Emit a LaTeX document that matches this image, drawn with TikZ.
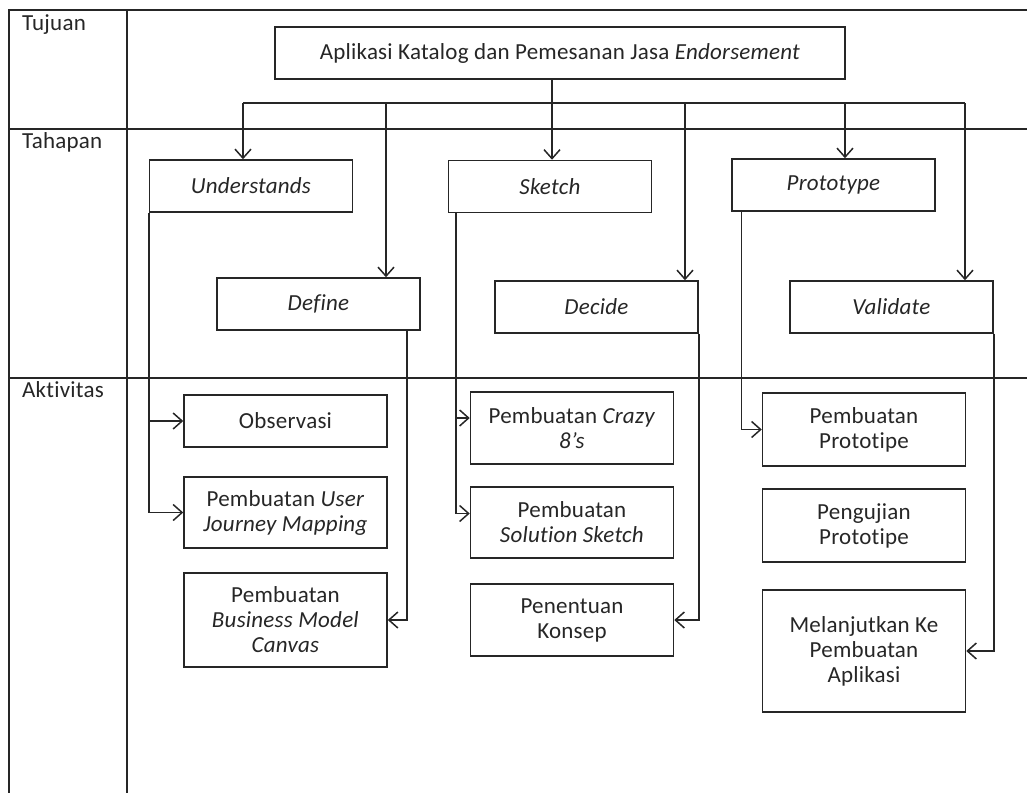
\documentclass[tikz,border=0pt]{standalone}
\usepackage{fontspec}
\setmainfont{Carlito}[Ligatures=NoCommon, LetterSpace=1]
\usetikzlibrary{calc,arrows.meta}

\begin{document}
\begin{tikzpicture}[x=1pt, y=-1pt,
  every node/.style={font=\fontsize{23}{25}\selectfont, text=black!85, inner sep=2pt},
  box/.style={draw=black!85, line width=1.5pt, align=center, minimum width=203pt, minimum height=52pt},
  frame/.style={draw=black!85, line width=1.5pt},
  arr/.style={draw=black!85, line width=1.5pt, -{Straight Barb[length=9pt,width=16pt]}},
  lbl/.style={anchor=base west}
]
\useasboundingbox (0,0) rectangle (1027,793);

% ---- Lanes ----
\draw[frame] (1027,10) -- (9,10) -- (9,793);
\draw[frame] (127,10) -- (127,793);
\draw[frame] (9,129) -- (1027,129);
\draw[frame] (9,378) -- (1027,378);

\node[lbl] (tujuan)    at (20,30)  {Tujuan};
\node[lbl] (tahapan)   at (20,148) {Tahapan};
\node[lbl] (aktivitas) at (20,397) {Aktivitas};

% ---- Goal ----
\node[box, minimum width=570pt] (title) at (560,53) {Aplikasi Katalog dan Pemesanan Jasa \textit{Endorsement}};

% ---- Stages ----
\node[box] (und) at (251,186)   {\textit{Understands}};
\node[box] (ske) at (550,186.5) {\textit{Sketch}};
\node[box] (pro) at (833.5,185) {\textit{Prototype}};
\node[box] (def) at (318.5,304) {\textit{Define}};
\node[box] (dec) at (596.5,307) {\textit{Decide}};
\node[box] (val) at (891.5,307) {\textit{Validate}};

% ---- Activities ----
\node[box]                       (obs) at (285.5,421)   {Observasi};
\node[box, minimum height=71pt]  (ujm) at (285.5,512.5) {Pembuatan \textit{User}\\\textit{Journey Mapping}};
\node[box, minimum height=94pt]  (bmc) at (285.5,620)   {Pembuatan\\\textit{Business Model}\\\textit{Canvas}};
\node[box, minimum height=72pt]  (crz) at (572,428)     {Pembuatan \textit{Crazy}\\\textit{8’s}};
\node[box, minimum height=71pt]  (sol) at (572,522.5)   {Pembuatan\\\textit{Solution Sketch}};
\node[box, minimum height=72pt]  (pen) at (572,620)     {Penentuan\\Konsep};
\node[box, minimum height=73pt]  (ppr) at (864,429.5)   {Pembuatan\\Prototipe};
\node[box, minimum height=73pt]  (pgp) at (864,525.5)   {Pengujian\\Prototipe};
\node[box, minimum height=122pt] (mel) at (864,651)     {Melanjutkan Ke\\Pembuatan\\Aplikasi};

% ---- Bus from goal to stages ----
\coordinate (bt) at (552,103);
\coordinate (b1) at (243,103);
\coordinate (b2) at (386,103);
\coordinate (b3) at (552,103);
\coordinate (b4) at (685,103);
\coordinate (b5) at (845,103);
\coordinate (b6) at (965,103);
\draw[frame] (b1) -- (b6);
\draw[frame] (bt |- title.south) -- (bt);
\draw[arr] (b1) -- (b1 |- und.north);
\draw[arr] (b2) -- (b2 |- def.north);
\draw[arr] (b3) -- (b3 |- ske.north);
\draw[arr] (b4) -- (b4 |- dec.north);
\draw[arr] (b5) -- (b5 |- pro.north);
\draw[arr] (b6) -- (b6 |- val.north);

% ---- Stages to activities ----
\draw[arr] (und.south west) |- (obs.west);
\draw[arr] (und.south west) |- (ujm.west);
\draw[arr] ($(def.south east)+(-14,0)$) |- (bmc.east);
\draw[arr] ($(ske.south west)+(8,0)$) |- ($(crz.west)+(0,-10)$);
\draw[arr] ($(ske.south west)+(8,0)$) |- ($(sol.west)+(0,-9)$);
\draw[arr] (dec.south east) |- (pen.east);
\draw[arr] ($(pro.south west)+(10,0)$) |- (ppr.west);
\draw[arr] (val.south east) |- (mel.east);
\end{tikzpicture}
\end{document}
